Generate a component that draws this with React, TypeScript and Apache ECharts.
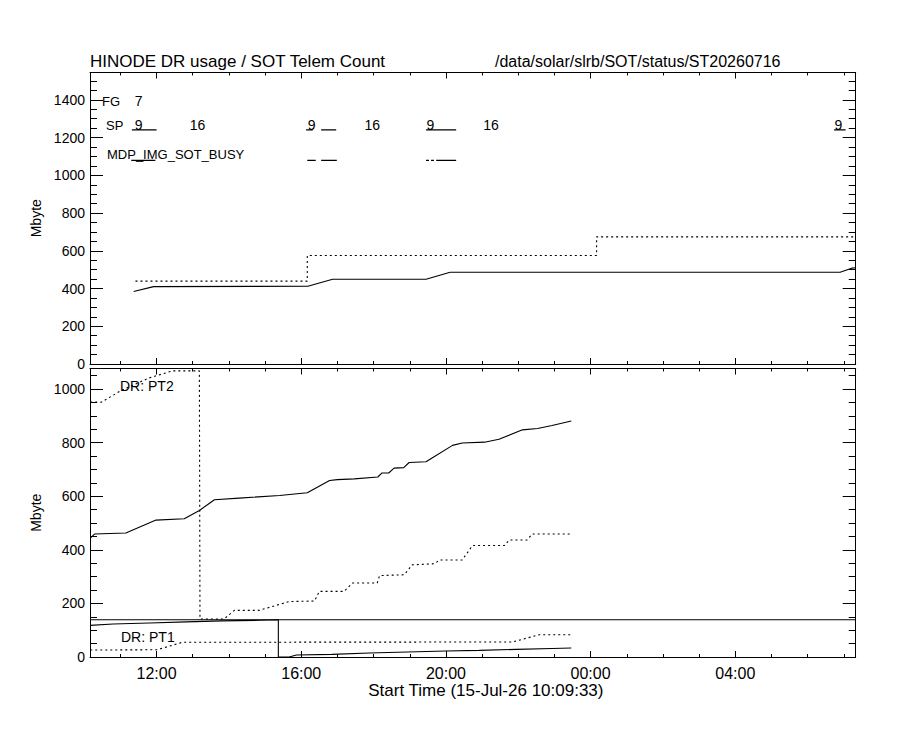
import React, { useEffect, useRef } from "react";
import * as echarts from "echarts";

const FONT = "'Liberation Sans', Arial, sans-serif";

const TITLE = "HINODE DR usage / SOT Telem Count";
const PATH_TEXT = "/data/solar/slrb/SOT/status/ST20260716";
const X_NAME = "Start Time (15-Jul-26 10:09:33)";
const Y_NAME = "Mbyte";

const START = "2026-07-15 10:09:33";
const END = "2026-07-16 07:19:48";

// ---- top panel ----
const topDottedTimes = ["2026-07-15 11:25", "2026-07-15 16:10", "2026-07-15 16:10", "2026-07-16 00:10", "2026-07-16 00:10", END];
const topDottedValues = [439, 439, 575, 575, 674, 674];

const topSolidTimes = ["2026-07-15 11:22", "2026-07-15 11:55", "2026-07-15 16:11", "2026-07-15 16:52", "2026-07-15 19:27", "2026-07-15 20:07", "2026-07-16 06:54", "2026-07-16 07:13", END];
const topSolidValues = [384, 410, 412, 449, 449, 486, 486, 508, 510];

const fgLabelTimes = ["2026-07-15 11:23"];
const fgLabels = ["7"];
const spLabelTimes = ["2026-07-15 11:23", "2026-07-15 12:54", "2026-07-15 16:10", "2026-07-15 17:44", "2026-07-15 19:27", "2026-07-15 21:01", "2026-07-16 06:44"];
const spLabels = ["9", "16", "9", "16", "9", "16", "9"];
const spSegments = [
  ["2026-07-15 11:19", "2026-07-15 12:00"],
  ["2026-07-15 16:08", "2026-07-15 16:19"],
  ["2026-07-15 16:33", "2026-07-15 16:58"],
  ["2026-07-15 19:27", "2026-07-15 20:17"],
  ["2026-07-16 06:44", "2026-07-16 07:03"],
];
const mdpSegments = [
  ["2026-07-15 11:18", "2026-07-15 11:58"],
  ["2026-07-15 16:10", "2026-07-15 16:24"],
  ["2026-07-15 16:33", "2026-07-15 16:59"],
  ["2026-07-15 19:44", "2026-07-15 20:17"],
];
const mdpDashedSegments = [["2026-07-15 19:27", "2026-07-15 19:44"]];

// ---- bottom panel ----
const pt2DottedTimes = ["10:10", "10:28", "11:03", "11:48", "12:26", "13:11", "13:12", "13:52", "14:09", "14:50", "15:40", "16:22", "16:30", "17:11", "17:25", "18:06", "18:10", "18:51", "19:04", "19:41", "19:49", "20:27", "20:44", "21:37", "21:45", "22:15", "22:23", "23:28"];
const pt2DottedValues = [952, 951, 997, 1042, 1068, 1068, 142, 142, 174, 174, 207, 209, 245, 245, 276, 276, 304, 307, 344, 348, 362, 362, 416, 416, 437, 437, 459, 459];

const pt2SolidTimes = ["10:10", "10:17", "11:09", "11:59", "12:46", "13:11", "13:36", "14:17", "15:24", "16:10", "16:47", "17:00", "17:28", "18:07", "18:14", "18:25", "18:34", "18:50", "18:59", "19:27", "19:37", "20:11", "20:27", "21:04", "21:28", "22:07", "22:32", "22:56", "23:28"];
const pt2SolidValues = [444, 459, 463, 511, 516, 547, 587, 593, 603, 613, 659, 662, 665, 672, 687, 687, 705, 707, 726, 729, 743, 790, 799, 802, 813, 848, 853, 864, 881];

const pt1SolidTimes = ["10:10", "10:48", "11:48", "12:49", "13:49", "14:50", "15:22", "15:22", "15:40", "15:52", "16:51", "17:53", "18:56", "20:00", "20:55", "21:57", "22:56", "23:28"];
const pt1SolidValues = [118, 123, 127, 131, 135, 137, 139, 0, 0, 7.5, 9.7, 15, 18.7, 22.4, 24.6, 28.4, 32, 33.6];

const pt1DottedTimes = ["10:10", "12:01", "12:43", "21:50", "22:35", "23:28"];
const pt1DottedValues = [26, 27, 55, 56, 83, 83];

const pt1Limit = 139;

// ---- helpers ----
function hrs(s: string): number {
  let d = "2026-07-15";
  let t = s;
  if (s.indexOf(" ") >= 0) {
    [d, t] = s.split(" ");
  }
  const day = Number(d.slice(8, 10)) - 15;
  const parts = t.split(":").map(Number);
  return day * 24 + parts[0] + parts[1] / 60 + (parts[2] || 0) / 3600;
}

const X_MIN = hrs(START);
const X_MAX = hrs(END);

const FG_LEVEL = 1394;
const SP_TEXT_LEVEL = 1267;
const SP_LINE_LEVEL = 1241;
const MDP_LINE_LEVEL = 1079;

function pairs(times: string[], values: number[]) {
  return times.map((t, i) => [hrs(t), values[i]]);
}

function segs(list: string[][], level: number) {
  const out: any[] = [];
  list.forEach(([a, b], i) => {
    if (i > 0) out.push([(hrs(list[i - 1][1]) + hrs(a)) / 2, "-"]);
    out.push([hrs(a), level], [hrs(b), level]);
  });
  return out;
}

function labels(times: string[], texts: string[], level: number) {
  return times.map((t, i) => ({ name: texts[i], value: [hrs(t), level] }));
}

const black = "#000";

function xAxis(grid: number, position: string, showLabel: boolean): any {
  return {
    type: "value",
    gridIndex: grid,
    position,
    min: X_MIN,
    max: X_MAX,
    minInterval: 4,
    maxInterval: 4,
    axisLine: { show: true, onZero: false, lineStyle: { color: black, width: 1 } },
    axisTick: { show: true, inside: true, length: 6, lineStyle: { color: black, width: 1 } },
    minorTick: { show: true, splitNumber: 4, length: 3, lineStyle: { color: black, width: 1 } },
    splitLine: { show: false },
    minorSplitLine: { show: false },
    axisLabel: showLabel
      ? {
          show: true,
          showMinLabel: false,
          showMaxLabel: false,
          margin: 8,
          color: black,
          fontSize: 16,
          fontFamily: FONT,
          formatter: (v: number) => String(Math.round(v) % 24).padStart(2, "0") + ":00",
        }
      : { show: false },
    name: showLabel ? X_NAME : "",
    nameLocation: "middle",
    nameGap: 24,
    nameTextStyle: { color: black, fontSize: 17, fontFamily: FONT, padding: [0, 0, 0, 26] },
  };
}

function yAxis(grid: number, position: string, max: number, showLabel: boolean): any {
  return {
    type: "value",
    gridIndex: grid,
    position,
    min: 0,
    max,
    interval: 200,
    axisLine: { show: true, lineStyle: { color: black, width: 1 } },
    axisTick: { show: true, inside: true, length: 13, lineStyle: { color: black, width: 1 } },
    minorTick: { show: true, splitNumber: 4, length: 7, lineStyle: { color: black, width: 1 } },
    splitLine: { show: false },
    minorSplitLine: { show: false },
    axisLabel: showLabel
      ? {
          show: true,
          showMaxLabel: false,
          margin: 5,
          color: black,
          fontSize: 14,
          fontFamily: FONT,
          formatter: (v: number) => String(Math.round(v)),
        }
      : { show: false },
    name: showLabel ? Y_NAME : "",
    nameLocation: "middle",
    nameGap: 45,
    nameRotate: 90,
    nameTextStyle: { color: black, fontSize: 14, fontFamily: FONT },
  };
}

function line(name: string, xi: number, yi: number, data: any[], dash: any): any {
  return {
    type: "line",
    name,
    xAxisIndex: xi,
    yAxisIndex: yi,
    data,
    symbol: "none",
    showSymbol: false,
    silent: true,
    connectNulls: false,
    lineStyle: { color: black, width: 1.1, type: dash },
    z: 3,
  };
}

function labelSeries(name: string, data: any[]): any {
  return {
    type: "scatter",
    name,
    xAxisIndex: 0,
    yAxisIndex: 0,
    data,
    symbolSize: 1,
    itemStyle: { color: "rgba(0,0,0,0)" },
    silent: true,
    label: {
      show: true,
      position: "right",
      distance: 0,
      formatter: "{b}",
      color: black,
      opacity: 1,
      textBorderWidth: 0,
      fontSize: 14,
      fontFamily: FONT,
    },
    z: 4,
  };
}

function txt(x: number, y: number, text: string, size: number): any {
  return {
    type: "text",
    x,
    y,
    silent: true,
    style: { text, fill: black, fontSize: size, fontFamily: FONT, align: "left", verticalAlign: "middle" },
  };
}

const DOT = [2, 3];

const option: any = {
  animation: false,
  backgroundColor: "#fff",
  grid: [
    { left: 90, right: 44.3, top: 72.5, height: 291.5, show: false },
    { left: 90, right: 44.3, top: 368.5, height: 288.5, show: false },
  ],
  xAxis: [xAxis(0, "bottom", false), xAxis(0, "top", false), xAxis(1, "bottom", true), xAxis(1, "top", false)],
  yAxis: [yAxis(0, "left", 1545, true), yAxis(0, "right", 1545, false), yAxis(1, "left", 1077, true), yAxis(1, "right", 1077, false)],
  series: [
    line("top dotted", 0, 0, pairs(topDottedTimes, topDottedValues), DOT),
    line("top solid", 0, 0, pairs(topSolidTimes, topSolidValues), "solid"),
    line("SP", 0, 0, segs(spSegments, SP_LINE_LEVEL), "solid"),
    line("MDP", 0, 0, segs(mdpSegments, MDP_LINE_LEVEL), "solid"),
    line("MDP dashed", 0, 0, segs(mdpDashedSegments, MDP_LINE_LEVEL), [3, 2]),
    labelSeries("FG labels", labels(fgLabelTimes, fgLabels, FG_LEVEL)),
    labelSeries("SP labels", labels(spLabelTimes, spLabels, SP_TEXT_LEVEL)),
    line("PT2 dotted", 2, 2, pairs(pt2DottedTimes, pt2DottedValues), DOT),
    line("PT2 solid", 2, 2, pairs(pt2SolidTimes, pt2SolidValues), "solid"),
    line("PT1 dotted", 2, 2, pairs(pt1DottedTimes, pt1DottedValues), DOT),
    line("PT1 solid", 2, 2, pairs(pt1SolidTimes, pt1SolidValues), "solid"),
    line("PT1 limit", 2, 2, [[X_MIN, pt1Limit], [X_MAX, pt1Limit]], "solid"),
  ],
  graphic: [
    txt(90, 61, TITLE, 17),
    txt(495, 61, PATH_TEXT, 16),
    txt(102, 101, "FG", 13),
    txt(106, 125, "SP", 13),
    txt(107, 154, "MDP_IMG_SOT_BUSY", 13),
    txt(120, 386, "DR: PT2", 14),
    txt(121, 637, "DR: PT1", 14),
  ],
};

export default function App() {
  const ref = useRef<HTMLDivElement>(null);
  useEffect(() => {
    if (!ref.current) return;
    const chart = echarts.init(ref.current, null, { renderer: "svg" });
    chart.setOption(option);
    return () => chart.dispose();
  }, []);
  return (
    <div
      ref={ref}
      style={{ position: "fixed", left: 0, top: 0, width: 900, height: 730, background: "#fff" }}
    />
  );
}
